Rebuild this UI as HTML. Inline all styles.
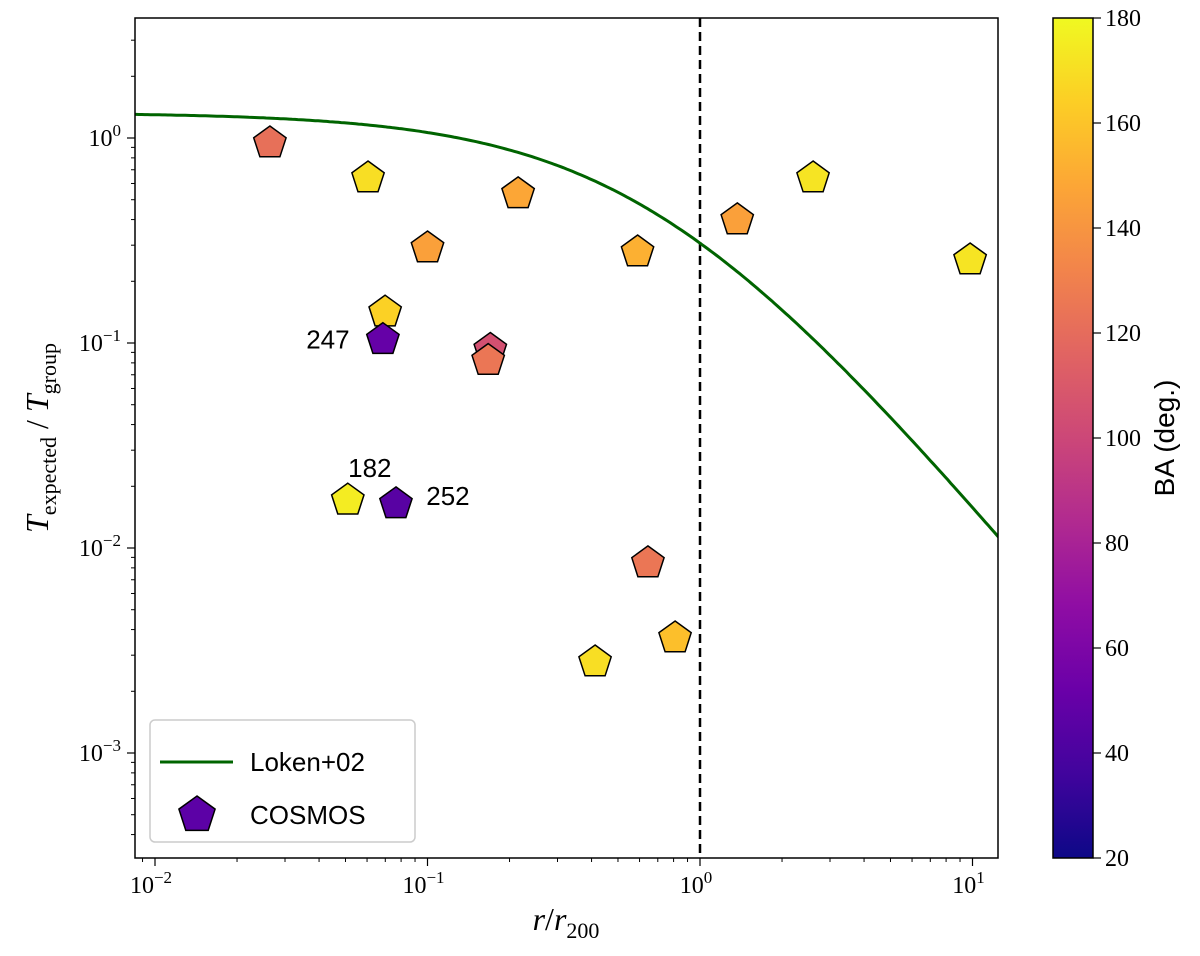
<!DOCTYPE html>
<html><head><meta charset="utf-8"><style>
html,body{margin:0;padding:0;background:#fff;}
svg{display:block;}
text{font-family:"Liberation Sans",sans-serif;}
.tick{font-family:"Liberation Serif",serif;font-size:24px;}
.serif{font-family:"Liberation Serif",serif;}
</style></head><body>
<svg id="chart" width="1200" height="956" xmlns="http://www.w3.org/2000/svg">
<defs>
<linearGradient id="plasma" x1="0" y1="1" x2="0" y2="0">
<stop offset="0" stop-color="#0d0887"/><stop offset="0.1" stop-color="#41049d"/>
<stop offset="0.2" stop-color="#6a00a8"/><stop offset="0.3" stop-color="#8f0da4"/>
<stop offset="0.4" stop-color="#b12a90"/><stop offset="0.5" stop-color="#cc4778"/>
<stop offset="0.6" stop-color="#e16462"/><stop offset="0.7" stop-color="#f2844b"/>
<stop offset="0.8" stop-color="#fca636"/><stop offset="0.9" stop-color="#fcce25"/>
<stop offset="1" stop-color="#f0f921"/>
</linearGradient>
</defs>
</svg>
<script>
const xs=[0.0264,0.0605,0.215,0.1,0.59,1.37,2.6,9.8,0.0699,0.0686,0.17,0.167,0.051,0.0766,0.644,0.81,0.412];
const ys=[0.956,0.645,0.54,0.294,0.281,0.403,0.645,0.257,0.143,0.105,0.094,0.083,0.0173,0.0166,0.00855,0.00368,0.00281];
const bas=[122,170,148,145,152,145,172,172,165,50,105,125,175,45,125,158,170];
const annotations=[{i:9,t:"247",dx:-55,dy:0},{i:12,t:"182",dx:22,dy:-32},{i:13,t:"252",dx:52,dy:-8}];
const cbTicks=[20,40,60,80,100,120,140,160,180];
const xDecades=[-2,-1,0,1];
const yDecades=[0,-1,-2,-3];
const lokenParams={a:1.33,b:1.5,p:-1.6};

const NS="http://www.w3.org/2000/svg";
const svg=document.getElementById('chart');
const L=135,R=998,T=18,B=858;
const X=v=>700+Math.log10(v)*272.5;
const Y=v=>138-Math.log10(v)*205;
function el(tag,attrs,parent){const e=document.createElementNS(NS,tag);for(const k in attrs)e.setAttribute(k,attrs[k]);(parent||svg).appendChild(e);return e;}
const pl=[[13,8,135],[65,4,157],[106,0,168],[143,13,164],[177,42,144],[204,71,120],[225,100,98],[242,132,75],[252,166,54],[252,206,37],[240,249,33]];
function cmap(v){let t=Math.max(0,Math.min(1,(v-20)/160))*10;const i=Math.min(9,Math.floor(t));const f=t-i;const a=pl[i],b=pl[i+1];return 'rgb('+a.map((c,j)=>Math.round(c+(b[j]-c)*f)).join(',')+')';}
function pent(cx,cy,r){let p=[];for(let k=0;k<5;k++){const a=-Math.PI/2+k*2*Math.PI/5;p.push((cx+r*Math.cos(a)).toFixed(1)+','+(cy+r*Math.sin(a)).toFixed(1));}return p.join(' ');}

const cp=el('clipPath',{id:'clip'});el('rect',{x:L,y:T,width:R-L,height:B-T},cp);

xDecades.forEach(d=>{
  const px=X(Math.pow(10,d));
  let t=el('line',{x1:px,y1:B,x2:px,y2:B+8,stroke:'#000','stroke-width':1.2});
  
  const tx=el('text',{x:px-4,y:B+35,'text-anchor':'middle',class:'tick'});
  
  tx.innerHTML='10<tspan dy="-10" font-size="17">'+(d<0?'−'+(-d):d)+'</tspan>';
  for(let m=2;m<10;m++){const mp=X(m*Math.pow(10,d));if(mp>L&&mp<R){let mt=el('line',{x1:mp,y1:B,x2:mp,y2:B+4,stroke:'#000'});}}
  const mp=X(0.9*Math.pow(10,d));if(d===-2&&mp>L){el('line',{x1:mp,y1:B,x2:mp,y2:B+4,stroke:'#000'});}
});
yDecades.forEach(d=>{
  const py=Y(Math.pow(10,d));
  let t=el('line',{x1:L-8,y1:py,x2:L,y2:py,stroke:'#000','stroke-width':1.2});
  
  const tx=el('text',{x:L-14,y:py+8,'text-anchor':'end',class:'tick'});
  
  tx.innerHTML='10<tspan dy="-10" font-size="17">'+(d<0?'−'+(-d):d)+'</tspan>';
});
for(let d=-4;d<=0;d++)for(let m=2;m<10;m++){const py=Y(m*Math.pow(10,d));if(py>T&&py<B){let mt=el('line',{x1:L-4,y1:py,x2:L,y2:py,stroke:'#000'});}}

let vl=el('line',{x1:X(1),y1:T,x2:X(1),y2:B,stroke:'#000','stroke-width':2.5,'stroke-dasharray':'9,5'});


let pts=[];for(let i=0;i<=300;i++){const lx=-2.08+i*(3.18/300);const x=Math.pow(10,lx);const y=lokenParams.a*Math.pow(1+lokenParams.b*x,lokenParams.p);pts.push(X(x).toFixed(1)+','+Y(y).toFixed(1));}
let cur=el('polyline',{points:pts.join(' '),fill:'none',stroke:'#006400','stroke-width':3,'clip-path':'url(#clip)'});


xs.forEach((x,i)=>{
  let p=el('polygon',{points:pent(X(x),Y(ys[i])+1,17),fill:cmap(bas[i]),stroke:'#000','stroke-width':1.5,'clip-path':'url(#clip)'});
  
});
annotations.forEach(a=>{
  let t=el('text',{x:X(xs[a.i])+a.dx,y:Y(ys[a.i])+a.dy+10,'text-anchor':'middle','font-size':26});
  
  t.textContent=a.t;
});

let fr=el('rect',{x:L,y:T,width:R-L,height:B-T,fill:'none',stroke:'#000','stroke-width':1.5});


const lg=el('g',{});
el('rect',{x:150,y:720,width:265,height:122,rx:5,fill:'#fff',stroke:'#ccc','stroke-width':1.5},lg);
let le1=el('line',{x1:160,y1:762,x2:233,y2:762,stroke:'#006400','stroke-width':3},lg);

let lt1=el('text',{x:250,y:771,'font-size':26},lg);lt1.textContent='Loken+02';
let le2=el('polygon',{points:pent(197,815,19),fill:'#5c01a6',stroke:'#000','stroke-width':1.5},lg);

let lt2=el('text',{x:250,y:824,'font-size':26},lg);lt2.textContent='COSMOS';

let xt=el('text',{x:566,y:930,'text-anchor':'middle',class:'serif','font-size':32});

xt.innerHTML='<tspan font-style="italic">r</tspan>/<tspan font-style="italic">r</tspan><tspan font-size="22" dy="8">200</tspan>';
let yt=el('text',{transform:'translate(48,438) rotate(-90)','text-anchor':'middle',class:'serif','font-size':32});

yt.innerHTML='<tspan font-style="italic">T</tspan><tspan font-size="22" dy="8">expected</tspan><tspan dy="-8"> / </tspan><tspan font-style="italic">T</tspan><tspan font-size="22" dy="8">group</tspan>';

const CL=1053,CR=1093;
let cb=el('rect',{x:CL,y:T,width:CR-CL,height:B-T,fill:'url(#plasma)',stroke:'#000','stroke-width':1.5});

const CY=v=>B-(v-20)/160*(B-T);
cbTicks.forEach(v=>{
  el('line',{x1:CR,y1:CY(v),x2:CR+8,y2:CY(v),stroke:'#000','stroke-width':1.2});
  let t=el('text',{x:CR+12,y:CY(v)+8,class:'tick'});
  
  t.textContent=v;
});
let ct=el('text',{transform:'translate(1174,438) rotate(-90)','text-anchor':'middle','font-size':28});

ct.textContent='BA (deg.)';
</script>
</body></html>
